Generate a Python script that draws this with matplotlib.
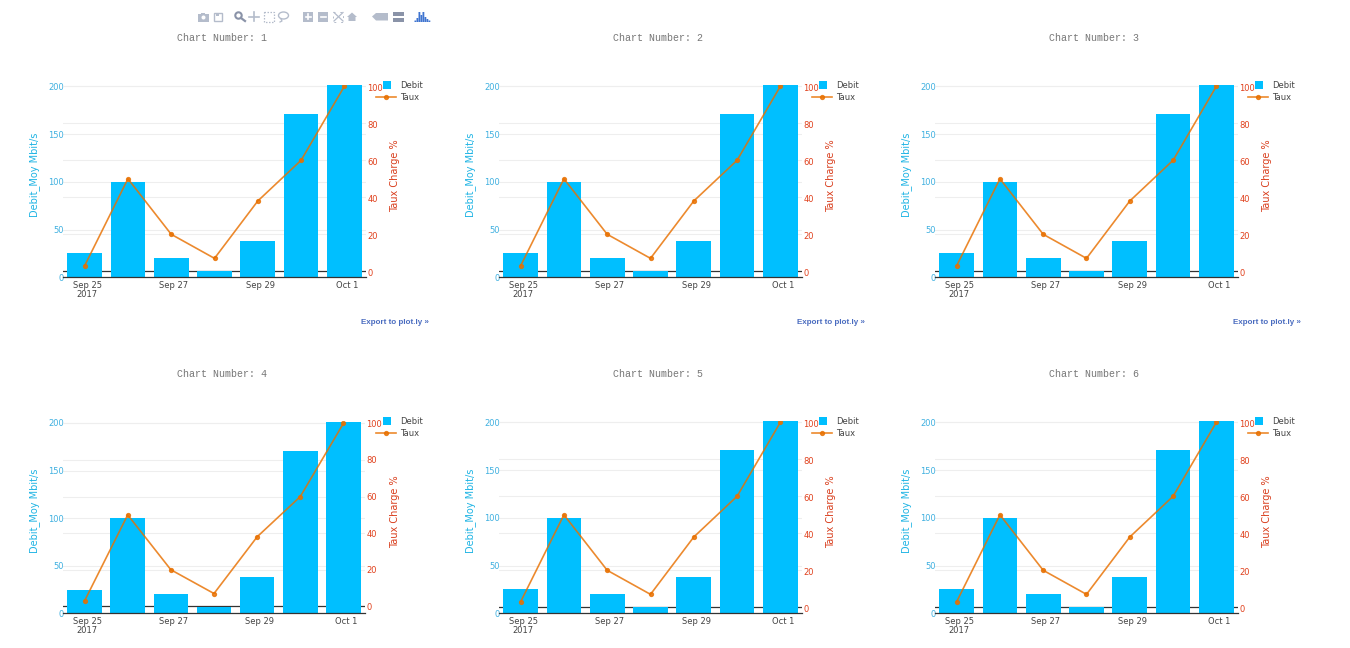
import matplotlib
matplotlib.use("Agg")
import matplotlib.pyplot as plt
import matplotlib.dates as mdates
from matplotlib.patches import Rectangle, Circle, Ellipse, Polygon
from matplotlib.transforms import ScaledTranslation
from datetime import datetime

W = 1350
H = 648
BLEU = "#00BFFF"
ORANGE = "#E87000"

dates = ["2017-09-25", "2017-09-26", "2017-09-27", "2017-09-28", "2017-09-29", "2017-09-30", "2017-10-01"]
debit = [25, 100, 20, 7, 38, 171, 201]
taux = [3, 50, 20, 7, 38, 60, 100]
debit_ticks = [0, 50, 100, 150, 200]
taux_ticks = [0, 20, 40, 60, 80, 100]
x_tick_dates = ["2017-09-25", "2017-09-27", "2017-09-29", "2017-10-01"]
x_tick_labels = ["Sep 25\n2017", "Sep 27", "Sep 29", "Oct 1"]
chart_numbers = [1, 2, 3, 4, 5, 6]

jours = [mdates.date2num(datetime.strptime(d, "%Y-%m-%d")) for d in dates]
jours_ticks = [mdates.date2num(datetime.strptime(d, "%Y-%m-%d")) for d in x_tick_dates]

fig = plt.figure(figsize=(W / 100, H / 100), dpi=100, facecolor="white")

# calque en pixels pour les titres, legendes et la barre d'outils
pix = fig.add_axes([0, 0, 1, 1], zorder=5)
pix.set_xlim(0, W)
pix.set_ylim(H, 0)
pix.axis("off")


def graphe(num, dx, dy):
    # le graphe 4 a des echelles un peu differentes des autres
    if num == 4:
        largeur, haut_g, bas_d, haut_d, decal_d = 302, 202, -3.8, 101.3, 0
    else:
        largeur, haut_g, bas_d, haut_d, decal_d = 303, 201.4, -3.24, 100.7, -1.4

    ax = fig.add_axes([(63 + dx) / W, 1 - (277.3 + dy) / H, largeur / W, 192.3 / H])
    ax.set_zorder(1)
    ax.bar(jours, debit, width=0.8, color=BLEU, zorder=3)
    ax.set_xlim(jours[0] - 0.5, jours[-1] + 0.5)
    ax.set_ylim(0, haut_g)
    ax.set_yticks(debit_ticks)
    ax.set_xticks(jours_ticks)
    ax.set_xticklabels(x_tick_labels, fontsize=6, color="#444444", linespacing=1.05)
    ax.tick_params(axis="x", length=0, pad=2.5)
    ax.tick_params(axis="y", length=0, labelsize=6, labelcolor="#3fb0e0", pad=-0.5)
    # apres tick_params, qui remet les transformations a zero
    decale = ScaledTranslation(2.5 / 100, 0, fig.dpi_scale_trans)
    for lab in ax.get_xticklabels():
        lab.set_transform(lab.get_transform() + decale)
    ax.grid(axis="y", color="#eeeeee", lw=0.8, zorder=0)
    ax.set_axisbelow(True)
    for s in ["top", "left", "right"]:
        ax.spines[s].set_visible(False)
    ax.spines["bottom"].set_color("#333333")
    ax.spines["bottom"].set_linewidth(0.9)
    ax.spines["bottom"].set_zorder(5)

    ax2 = ax.twinx()
    ax2.set_zorder(2)
    ax2.patch.set_visible(False)
    ax2.plot(jours, taux, color=ORANGE, lw=1.2, marker="o", ms=2.8, alpha=0.82, zorder=4)
    ax2.set_ylim(bas_d, haut_d)
    ax2.set_yticks(taux_ticks)
    ax2.tick_params(axis="y", length=0, labelsize=6, labelcolor="#e0401c", pad=1)
    decale_d = ScaledTranslation(0, decal_d / 100, fig.dpi_scale_trans)
    for lab in ax2.get_yticklabels():
        lab.set_transform(lab.get_transform() + decale_d)
    for s in ax2.spines.values():
        s.set_visible(False)
    # grille et ligne zero de l'axe de droite, sous les barres
    for t in taux_ticks:
        yy = ax.transData.inverted().transform(ax2.transData.transform((0, t)))[1]
        if t == 0:
            ax.axhline(yy, color="#333333", lw=0.9, zorder=1)
        else:
            ax.axhline(yy, color="#eeeeee", lw=0.8, zorder=1)

    pix.text(35 + dx, 175 + dy, "Debit_Moy Mbit/s", fontsize=7, color="#1fb4e4", rotation=90,
             ha="center", va="center")
    pix.text(395 + dx, 176 + dy, "Taux Charge %", fontsize=7, color="#d9401f", rotation=90,
             ha="center", va="center")
    pix.text(222 + dx, 38 + dy, "Chart Number: %d" % num, family="Liberation Mono",
             fontsize=7.2, color="#777777", ha="center", va="center")
    if dy == 0:
        pix.text(429 + dx, 322 + dy, "Export to plot.ly \u00bb", family="Liberation Sans",
                 fontsize=5.8, fontweight="bold", color="#4a6cc0", ha="right", va="center")

    # legende
    pix.add_patch(Rectangle((382.5 + dx, 80.5 + dy), 8, 8, color=BLEU, lw=0))
    pix.text(400 + dx, 85 + dy, "Debit", fontsize=6, color="#444444", va="center")
    pix.plot([376 + dx, 396 + dx], [97 + dy, 97 + dy], color=ORANGE, lw=1.2, alpha=0.82)
    pix.plot([386 + dx], [97 + dy], color=ORANGE, marker="o", ms=2.8, alpha=0.82)
    pix.text(400 + dx, 97 + dy, "Taux", fontsize=6, color="#444444", va="center")


for i, n in enumerate(chart_numbers):
    graphe(n, 436 * (i % 3), 336 * (i // 3))
pix.set_xlim(0, W)
pix.set_ylim(H, 0)

# barre d'outils plotly
GRIS = "#b4bccb"
FONCE = "#8a93a8"
# appareil photo
pix.add_patch(Rectangle((198, 14), 11, 7.5, color=GRIS, lw=0))
pix.add_patch(Rectangle((201, 12.5), 4, 2, color=GRIS, lw=0))
pix.add_patch(Circle((203.5, 17.5), 2, color="white", lw=0))
# disquette
pix.add_patch(Rectangle((213.5, 12.5), 8, 8.5, fill=False, ec=GRIS, lw=1))
pix.add_patch(Rectangle((215.5, 12.5), 3.5, 3, color=GRIS, lw=0))
# loupe
pix.add_patch(Circle((238.5, 15.5), 3.2, fill=False, ec=FONCE, lw=1.5))
pix.plot([241, 245], [18, 21], color=FONCE, lw=1.6)
# deplacement
pix.plot([249, 259], [16.5, 16.5], color=GRIS, lw=1.2)
pix.plot([254, 254], [12, 21], color=GRIS, lw=1.2)
# selection rectangle et lasso
pix.add_patch(Rectangle((263.5, 12), 10, 9.5, fill=False, ec=GRIS, lw=0.9, ls=(0, (1.2, 1.2))))
pix.add_patch(Ellipse((283.5, 15.5), 10, 7, fill=False, ec=GRIS, lw=1))
pix.plot([281, 282, 280], [19, 21, 22], color=GRIS, lw=0.9)
# plus, moins
for x, signe in [(303, True), (318, False)]:
    pix.add_patch(Rectangle((x, 12), 10, 9.5, color=GRIS, lw=0))
    pix.plot([x + 2.5, x + 7.5], [16.7, 16.7], color="white", lw=1.2)
    if signe:
        pix.plot([x + 5, x + 5], [14.2, 19.2], color="white", lw=1.2)
# echelle auto
pix.plot([334, 343], [12.5, 21], color=GRIS, lw=0.9)
pix.plot([343, 334], [12.5, 21], color=GRIS, lw=0.9)
pix.add_patch(Rectangle((333, 12), 10, 9.5, fill=False, ec=GRIS, lw=0.7, ls=(0, (2, 5))))
# maison
pix.add_patch(Polygon([(347, 17), (352, 12.5), (357, 17), (355.5, 17), (355.5, 21), (348.5, 21), (348.5, 17)],
                      color=GRIS, lw=0))
# etiquette et comparaison
pix.add_patch(Polygon([(372, 16.5), (376, 13), (388, 13), (388, 20.5), (376, 20.5)], color=GRIS, lw=0))
pix.add_patch(Rectangle((392.5, 12), 11.5, 4, color=FONCE, lw=0))
pix.add_patch(Rectangle((392.5, 17.5), 11.5, 4, color=FONCE, lw=0))
# logo plotly
for x, h in [(414.5, 1.5), (416.5, 4), (418.5, 10), (420.5, 7), (422.5, 10), (424.5, 5), (426.5, 3), (428.5, 1.5)]:
    pix.add_patch(Rectangle((x, 22 - h), 1.8, h, color="#3f74d0", lw=0, snap=False))

fig.savefig("out.png", dpi=100)
